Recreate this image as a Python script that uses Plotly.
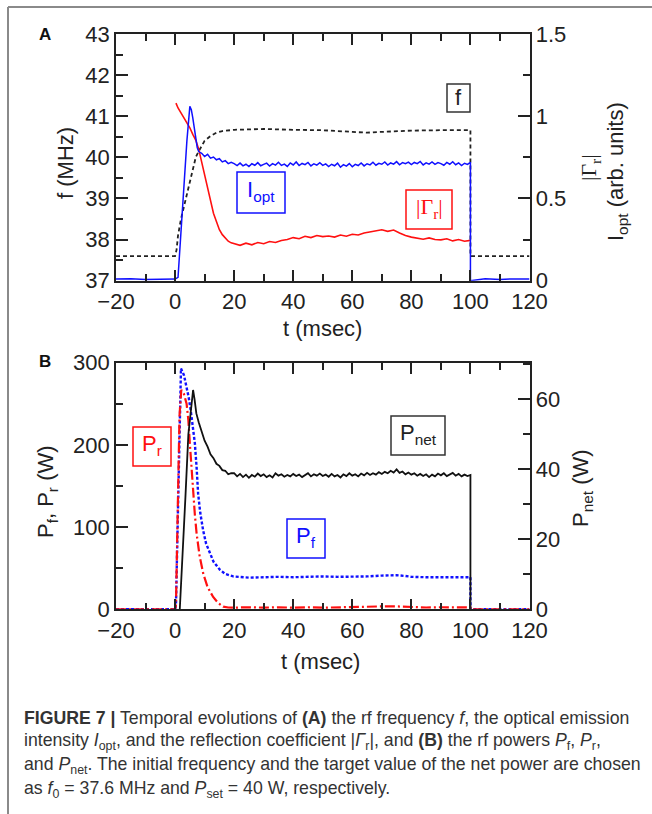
import plotly.graph_objects as go

# ---------------- DATA ----------------
# Panel A: rf frequency f (MHz, left axis)
t_f = [-20, 0, 0.5, 1, 2, 3, 4, 5, 6, 7, 8, 10, 12, 14, 16, 18, 20, 25, 30, 40, 50, 60, 65, 70, 80, 90, 100, 100, 120]
f_mhz = [37.6, 37.6, 37.75, 38.1, 38.5, 38.8, 39.1, 39.4, 39.7, 40.0, 40.15, 40.4, 40.52, 40.6, 40.64, 40.66,
         40.67, 40.68, 40.69, 40.67, 40.66, 40.62, 40.6, 40.62, 40.65, 40.66, 40.66, 37.6, 37.6]

# Panel A: optical emission intensity I_opt (right axis)
t_iopt = ([-20, -15, -10, -5, 0, 1.0, 2, 3, 4, 5.0, 5.5, 6, 6.5, 7, 7.5, 8, 9, 10, 11, 12, 13, 14, 15, 16, 17, 18, 19]
          + list(range(20, 101)) + [100, 105, 110, 115, 120])
iopt = ([0.01, 0.012, 0.008, 0.011, 0.01, 0.02, 0.3, 0.58, 0.85, 1.06, 1.04, 0.99, 0.93, 0.87, 0.81, 0.785,
         0.775, 0.755, 0.768, 0.745, 0.752, 0.735, 0.742, 0.722, 0.73, 0.712, 0.72]
        + [0.712, 0.700, 0.715, 0.698, 0.708, 0.694, 0.711, 0.702, 0.718, 0.699,
           0.707, 0.715, 0.697, 0.712, 0.703, 0.720, 0.701, 0.709, 0.695, 0.716,
           0.704, 0.722, 0.700, 0.713, 0.706, 0.719, 0.698, 0.711, 0.703, 0.717,
           0.701, 0.710, 0.694, 0.708, 0.699, 0.715, 0.690, 0.706, 0.697, 0.712,
           0.693, 0.707, 0.700, 0.716, 0.698, 0.711, 0.704, 0.720, 0.702, 0.714,
           0.708, 0.722, 0.703, 0.716, 0.709, 0.724, 0.705, 0.718, 0.711, 0.721,
           0.706, 0.719, 0.712, 0.725, 0.704, 0.717, 0.709, 0.722, 0.707, 0.718,
           0.712, 0.702, 0.719, 0.708, 0.723, 0.705, 0.716, 0.700, 0.714, 0.707,
           0.72]
        + [0.0, 0.012, 0.008, 0.011, 0.01])

# Panel A: reflection coefficient |Gamma_r| (right axis)
t_gam = [0.3, 1, 2, 3, 4, 5, 6, 7, 8, 9, 10, 11, 12, 13, 14, 15, 16, 17, 18, 19, 20, 22, 24, 26, 28, 30, 32, 34,
         36, 38, 40, 42, 44, 46, 48, 50, 52, 54, 56, 58, 60, 62, 64, 66, 68, 70, 72, 74, 76, 78, 80, 82, 84, 86,
         88, 90, 92, 94, 96, 98, 100]
gam = [1.08, 1.05, 1.02, 0.99, 0.96, 0.93, 0.89, 0.855, 0.8, 0.72, 0.64, 0.56, 0.48, 0.41, 0.36, 0.31, 0.28,
       0.26, 0.24, 0.23, 0.225, 0.215, 0.228, 0.218, 0.232, 0.225, 0.238, 0.232, 0.245, 0.25, 0.262, 0.255,
       0.27, 0.262, 0.275, 0.268, 0.272, 0.265, 0.278, 0.27, 0.282, 0.278, 0.29, 0.298, 0.305, 0.31, 0.3,
       0.308, 0.29, 0.275, 0.265, 0.258, 0.252, 0.26, 0.25, 0.248, 0.255, 0.242, 0.25, 0.24, 0.245]

# Panel B: forward power P_f (W, left axis)
t_pf = [-20, -10, 0, 0.3, 1, 1.5, 2.0, 3, 3.9, 4.6, 5.3, 6, 6.7, 7.3, 7.8, 8.5, 9.5, 10.5, 11.8, 13, 15.2, 17,
        19.7, 25, 30, 35, 40, 45, 50, 55, 60, 65, 70, 73, 75, 78, 80, 85, 90, 95, 100, 100, 110, 120]
pf = [0, 0, 0, 5, 130, 240, 293, 285, 271, 258, 242, 224, 202, 172, 141, 118, 96, 80, 68, 58, 48, 43, 40, 38.5,
      39, 39.5, 39, 39.5, 40, 39.5, 39.5, 40, 41, 41.8, 41.5, 40.5, 39.5, 39, 39, 39.5, 39, 0, 0, 0]

# Panel B: reflected power P_r (W, left axis)
t_pr = [-20, -10, 0, 0.3, 1, 1.5, 2.1, 3, 3.9, 4.5, 5, 5.5, 6.1, 6.7, 7.3, 8.3, 9.5, 11, 12.9, 14.5, 16.3, 18,
        20, 25, 30, 35, 40, 45, 50, 55, 60, 65, 70, 75, 80, 85, 90, 95, 100, 100, 110, 120]
pr = [0, 0, 0, 5, 150, 235, 267, 262, 250, 230, 202, 172, 141, 115, 92, 65, 44, 27, 15, 8, 3.2, 2.2, 2, 2.5, 2,
      2.5, 2, 2.5, 2, 2.5, 2.2, 3, 3.5, 3.5, 2.5, 2.2, 2.5, 2, 2.2, 0, 0, 0]

# Panel B: net power P_net (W, right axis)
t_pnet = ([1.6, 2.5, 3.5, 4.5, 5.5, 6.1, 6.6, 7.2, 8, 9, 10, 11, 12, 13, 14, 15, 16, 17, 18, 19]
          + list(range(20, 101)) + [100])
pnet = ([0, 14, 32, 50, 59, 62.7, 60, 56, 53.5, 51, 48.2, 46.5, 44.3, 43.2, 41.6, 41.0, 39.8, 39.6, 38.6, 38.9]
        + [38.9, 38.0, 38.7, 37.8, 38.5, 37.6, 38.4, 37.9, 38.8, 38.1,
           38.6, 37.8, 38.3, 37.7, 38.9, 38.2, 38.6, 37.9, 38.4, 38.0,
           38.7, 38.1, 38.5, 37.8, 38.3, 38.9, 38.0, 38.6, 38.2, 38.8,
           38.1, 38.5, 37.9, 38.7, 38.0, 38.4, 37.7, 38.6, 38.1, 38.9,
           38.2, 38.6, 38.0, 38.8, 38.3, 39.0, 38.4, 38.9, 38.5, 39.2,
           38.7, 39.3, 38.9, 39.6, 39.1, 40.0, 39.0, 39.4, 38.6, 39.1,
           38.5, 38.9, 38.2, 38.7, 38.1, 38.6, 37.8, 38.5, 38.0, 38.8,
           38.3, 38.9, 38.1, 38.6, 39.0, 38.2, 38.7, 38.0, 38.5, 38.1,
           38.4]
        + [0])

x_ticks = [-20, 0, 20, 40, 60, 80, 100, 120]

# ---------------- LAYOUT HELPERS ----------------
W, H = 652, 814
def px(x):
    return x / W
def py(y):
    return 1 - y / H

FONT = "Liberation Sans"
TXT = "#222222"
AX = "#222222"
BLUE = "#1010ff"
RED = "#ff1010"

fig = go.Figure()

# Panel A traces
fig.add_trace(go.Scatter(x=t_gam, y=gam, mode="lines", line=dict(color=RED, width=1.6),
                         xaxis="x", yaxis="y2", showlegend=False))
fig.add_trace(go.Scatter(x=t_iopt, y=iopt, mode="lines", line=dict(color=BLUE, width=1.5),
                         xaxis="x", yaxis="y2", showlegend=False))
fig.add_trace(go.Scatter(x=t_f, y=f_mhz, mode="lines", line=dict(color="#222222", width=1.8, dash="4px,3px"),
                         xaxis="x", yaxis="y", showlegend=False))

# Panel B traces
fig.add_trace(go.Scatter(x=t_pf, y=pf, mode="lines", line=dict(color=BLUE, width=2.4, dash="3px,2px"),
                         xaxis="x2", yaxis="y3", showlegend=False))
fig.add_trace(go.Scatter(x=t_pr, y=pr, mode="lines", line=dict(color=RED, width=2.2, dash="10px,3px,2px,3px"),
                         xaxis="x2", yaxis="y3", showlegend=False))
fig.add_trace(go.Scatter(x=t_pnet, y=pnet, mode="lines", line=dict(color="#111111", width=1.8),
                         xaxis="x2", yaxis="y4", showlegend=False))

XD = [px(116), px(529.5)]
YA = [py(280.7), py(34)]
YB = [py(609.3), py(362.7)]

tickfont = dict(family=FONT, size=22, color=TXT)

def xax(anchor):
    return dict(domain=XD, anchor=anchor, range=[-20, 120], tickmode="array", tickvals=x_ticks,
                ticks="inside", ticklen=11, tickwidth=1.5, tickcolor=AX,
                showline=True, linecolor=AX, linewidth=1.6, mirror="ticks", automargin=False,
                showgrid=False, zeroline=False, tickfont=tickfont,
                minor=dict(dtick=10, tick0=-20, ticks="inside", ticklen=7, tickwidth=1.5, tickcolor=AX))

def yax(domain, rng, dtick, mdtick, side="left", overlay=None, anchor=None):
    d = dict(domain=domain, range=rng, tickmode="linear", tick0=0, dtick=dtick,
             ticks="inside", ticklen=12, tickwidth=1.5, tickcolor=AX,
             showline=True, linecolor=AX, linewidth=1.6, side=side, automargin=False,
             showgrid=False, zeroline=False, tickfont=tickfont,
             minor=dict(dtick=mdtick, ticks="inside", ticklen=7, tickwidth=1.5, tickcolor=AX))
    if overlay:
        d["overlaying"] = overlay
    if anchor:
        d["anchor"] = anchor
    return d

fig.update_layout(
    width=W, height=H, margin=dict(l=0, r=0, t=0, b=0, autoexpand=False),
    paper_bgcolor="white", plot_bgcolor="white",
    xaxis=xax("y"),
    yaxis=yax(YA, [37, 43], 1, 0.5, anchor="x"),
    yaxis2=yax(YA, [0, 1.5], 0.5, 0.25, side="right", overlay="y", anchor="x"),
    xaxis2=xax("y3"),
    yaxis3=yax(YB, [0, 300], 100, 50, anchor="x2"),
    yaxis4=yax(YB, [0, 70.5], 20, 10, side="right", overlay="y3", anchor="x2"),
)

shapes = []
# figure frame (left and top grey border)
shapes.append(dict(type="line", xref="paper", yref="paper", x0=px(8), x1=px(8), y0=py(7), y1=py(814),
                   line=dict(color="#8a8a8a", width=2)))
shapes.append(dict(type="line", xref="paper", yref="paper", x0=px(8), x1=px(652), y0=py(7), y1=py(7),
                   line=dict(color="#8a8a8a", width=2)))

def box(x0, y0, x1, y1, color):
    shapes.append(dict(type="rect", xref="paper", yref="paper", x0=px(x0), x1=px(x1), y0=py(y1), y1=py(y0),
                       line=dict(color=color, width=1.5), fillcolor="rgba(0,0,0,0)"))

box(447, 84, 470, 112, "#333333")
box(237, 172, 285, 213, BLUE)
box(406, 190, 452, 229, RED)
box(133, 427, 171, 466, RED)
box(391, 416, 445, 455, "#333333")
box(287, 519, 325, 558, BLUE)

ann = []
def text(x, y, s, size=22, color=TXT, family=FONT, angle=0, xanchor="center", yanchor="middle"):
    ann.append(dict(x=px(x), y=py(y), xref="paper", yref="paper", text=s, showarrow=False,
                    font=dict(family=family, size=size, color=color), textangle=angle,
                    xanchor=xanchor, yanchor=yanchor))

# labels in boxes
text(458.5, 98, "f", color="#222222")
text(261, 191, "I<sub>opt</sub>", color=BLUE)
text(429, 208, "|Γ<sub>r</sub>|", color=RED, family="Liberation Serif")
text(152, 445, "P<sub>r</sub>", color=RED)
text(418, 434, "P<sub>net</sub>", color="#222222")
text(306, 537, "P<sub>f</sub>", color=BLUE)

# axis titles
text(66, 163, "f (MHz)", angle=-90)
text(590, 168, "|Γ<sub>r</sub>|", angle=-90, family="Liberation Serif")
text(617, 172, "I<sub>opt</sub> (arb. units)", angle=-90)
text(322, 329, "t (msec)")
text(47, 492, "P<sub>f</sub>, P<sub>r</sub> (W)", angle=-90)
text(582, 488, "P<sub>net</sub> (W)", angle=-90)
text(320, 661, "t (msec)")

# panel letters
text(45, 35, "<b>A</b>", size=17, color="#111111")
text(45, 361, "<b>B</b>", size=17, color="#111111")

# caption
cap = [
    "<b>FIGURE 7 |</b> Temporal evolutions of <b>(A)</b> the rf frequency <i>f</i>, the optical emission",
    "intensity <i>I</i><sub>opt</sub>, and the reflection coefficient |<i>Γ</i><sub>r</sub>|, and <b>(B)</b> the rf powers <i>P</i><sub>f</sub>, <i>P</i><sub>r</sub>,",
    "and <i>P</i><sub>net</sub>. The initial frequency and the target value of the net power are chosen",
    "as <i>f</i><sub>0</sub> = 37.6 MHz and <i>P</i><sub>set</sub> = 40 W, respectively.",
]
for i, line in enumerate(cap):
    text(22, 718 + 23.7 * i, line, size=17.7, color="#333333", xanchor="left")

fig.update_layout(shapes=shapes, annotations=ann)
fig.write_html("out.html", config={"displayModeBar": False},
               post_script="document.body.style.margin='0';document.body.style.overflow='hidden';")
